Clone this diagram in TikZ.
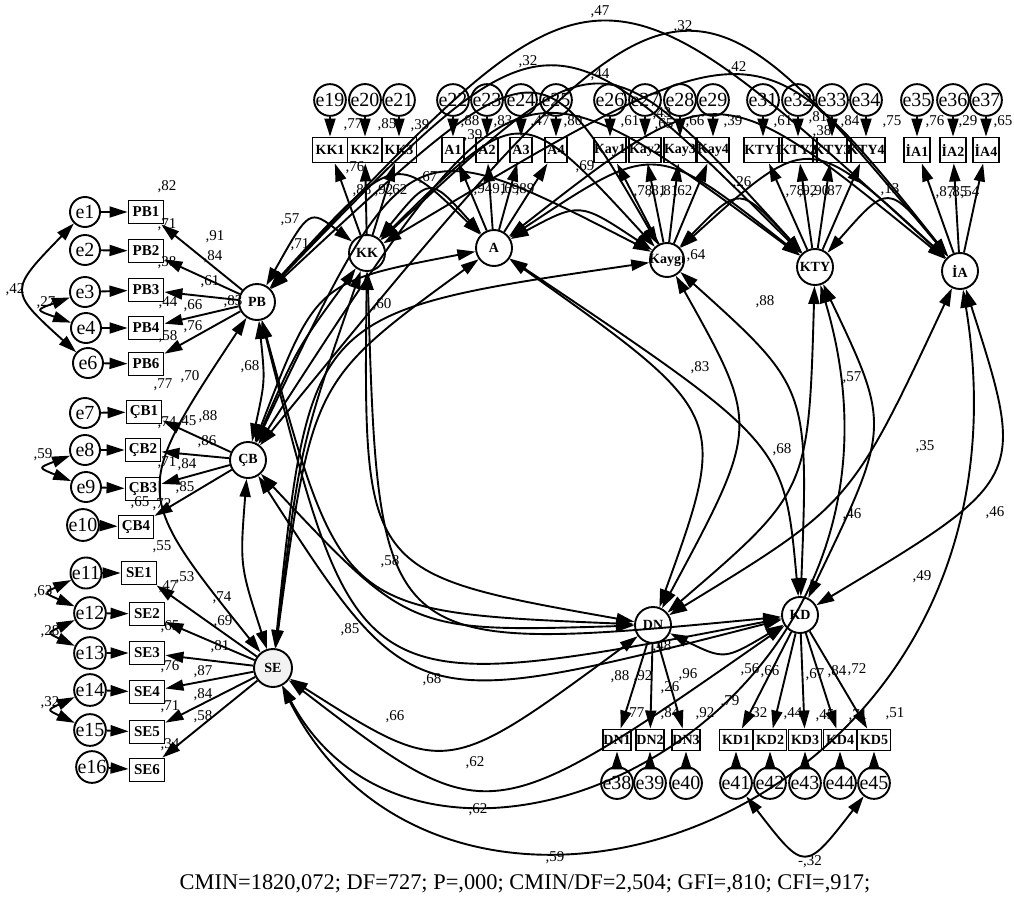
\documentclass[tikz,border=0pt]{standalone}
\usepackage{fontspec}
\setmainfont{Liberation Serif}
\usetikzlibrary{arrows.meta,calc}

\tikzset{
  lat/.style={circle,draw,line width=1.9pt,minimum size=36pt,inner sep=0pt,font=\bfseries\fontsize{14}{14}\selectfont},
  obs/.style={rectangle,draw,line width=1.9pt,minimum height=23pt,inner sep=0pt,font=\bfseries\fontsize{15}{15}\selectfont},
  err/.style={circle,draw,line width=1.9pt,minimum size=30pt,inner sep=0pt,font=\fontsize{20}{20}\selectfont},
  lbl/.style={inner sep=0pt,font=\fontsize{15}{15}\selectfont},
  reg/.style={-{Triangle[length=18pt,width=11pt]},line width=1.9pt},
  cov/.style={{Triangle[length=18pt,width=11pt]}-{Triangle[length=18pt,width=11pt]},line width=1.9pt},
}
\newcommand{\covar}[4]{\draw[cov] (#1) .. controls ($1.3333*(#3,-#4)-0.1667*(#1)-0.1667*(#2)$) .. (#2);}
\newcommand{\covarcc}[6]{\draw[cov] (#1) .. controls (#3,-#4) and (#5,-#6) .. (#2);}

\begin{document}
\begin{tikzpicture}[x=1pt,y=1pt]
\useasboundingbox (0,0) rectangle (1014,-910);

\node[lat] (PB) at (257,-302) {PB};
\node[lat] (CB) at (248,-460) {ÇB};
\node[lat,minimum size=38pt,fill=gray!10] (SE) at (273,-668) {SE};
\node[lat] (KK) at (367,-253) {KK};
\node[lat] (A) at (494,-248) {A};
\node[lat,minimum size=34pt] (Kay) at (667,-260) {\makebox[0pt]{Kaygı}};
\node[lat] (KTY) at (815,-267) {KTY};
\node[lat] (IA) at (960,-271) {İA};
\node[lat] (DN) at (653,-625) {DN};
\node[lat] (KD) at (800,-615) {KD};

% left side
\foreach \i/\lab/\bx/\by/\ex/\ey in {1/PB1/146/212/85/212, 2/PB2/146/251/85/250, 3/PB3/146/290/85/292,
  4/PB4/146/328/86/328, 6/PB6/146/364/88/363, 7/ÇB1/144/412/85/413, 8/ÇB2/143/450/85/450,
  9/ÇB3/143/489/86/487, 10/ÇB4/136/527/83/525, 11/SE1/139/573/86/573, 12/SE2/147/614/90/613,
  13/SE3/147/653/90/653, 14/SE4/147/692/90/690, 15/SE5/147/732/90/730, 16/SE6/147/770/92/767}{
  \node[obs,minimum width=35pt] (x\i) at (\bx,-\by) {\lab};
  \node[err] (e\i) at (\ex,-\ey) {e\i};
  \draw[reg] (e\i) -- (x\i);
}

% top row
\foreach \i/\lab/\bx/\w in {19/KK1/330/35, 20/KK2/365/35, 21/KK3/399/35, 22/A1/453/22, 23/A2/487/22,
  24/A3/521/22, 25/A4/556/22, 26/Kay1/610/28, 27/Kay2/645/28, 28/Kay3/680/28, 29/Kay4/713/28,
  31/KTY1/763/30, 32/KTY2/798/30, 33/KTY3/832/30, 34/KTY4/866/30, 35/İA1/917/26, 36/İA2/953/26, 37/İA4/986/26}{
  \node[obs,minimum width=\w pt,minimum height=25pt,font=\bfseries\fontsize{14}{14}\selectfont] (x\i) at (\bx,-150) {\lab};
  \node[err] (e\i) at (\bx,-100) {e\i};
  \draw[reg] (e\i) -- (x\i);
}

% bottom row
\foreach \i/\lab/\bx/\w in {38/DN1/617/28, 39/DN2/650/28, 40/DN3/686/28, 41/KD1/736/33, 42/KD2/770/33,
  43/KD3/805/33, 44/KD4/840/33, 45/KD5/874/33}{
  \node[obs,minimum width=\w pt,minimum height=21pt,font=\bfseries\fontsize{14}{14}\selectfont] (x\i) at (\bx,-740) {\lab};
  \node[err] (e\i) at (\bx,-783) {e\i};
  \draw[reg] (e\i) -- (x\i);
}

\foreach \i in {1,2,3,4,6} \draw[reg] (PB) -- (x\i);
\foreach \i in {7,...,10} \draw[reg] (CB) -- (x\i);
\foreach \i in {11,...,16} \draw[reg] (SE) -- (x\i);
\foreach \i in {19,20,21} \draw[reg] (KK) -- (x\i);
\foreach \i in {22,...,25} \draw[reg] (A) -- (x\i);
\foreach \i in {26,...,29} \draw[reg] (Kay) -- (x\i);
\foreach \i in {31,...,34} \draw[reg] (KTY) -- (x\i);
\foreach \i in {35,36,37} \draw[reg] (IA) -- (x\i);
\foreach \i in {38,39,40} \draw[reg] (DN) -- (x\i);
\foreach \i in {41,...,45} \draw[reg] (KD) -- (x\i);

% error covariances
\covar{e1}{e6}{28}{290}
\covar{e3}{e4}{48}{310}
\covar{e8}{e9}{50}{468}
\covar{e11}{e12}{55}{593}
\covar{e12}{e13}{58}{633}
\covar{e14}{e15}{58}{710}
\covar{e41}{e45}{805}{850}

% factor covariances
\covar{PB}{CB}{262}{381}
\covar{PB}{SE}{165}{490}
\covar{PB}{KK}{310}{226}
\covar{PB}{A}{390}{182}
\covar{PB}{Kay}{520}{100}
\covar{PB}{KTY}{545}{72}
\covar{PB}{IA}{600}{27}
\covar{PB}{DN}{370}{575}
\covar{PB}{KD}{400}{640}
\covar{CB}{SE}{245}{565}
\covar{CB}{KK}{300}{350}
\covar{CB}{A}{330}{300}
\covar{CB}{Kay}{420}{185}
\covar{CB}{KTY}{520}{125}
\covar{CB}{IA}{660}{42}
\covar{CB}{DN}{420}{610}
\covar{CB}{KD}{440}{670}
\covar{SE}{KK}{305}{450}
\covar{SE}{A}{330}{400}
\covar{SE}{Kay}{350}{350}
\covarcc{SE}{KTY}{430}{960}{950}{720}
\covarcc{SE}{IA}{450}{1020}{1050}{820}
\covar{SE}{DN}{450}{745}
\covar{SE}{KD}{500}{785}
\covar{KK}{A}{430}{195}
\covar{KK}{Kay}{520}{140}
\covar{KK}{KTY}{600}{90}
\covar{KK}{IA}{735}{80}
\covar{KK}{DN}{400}{540}
\covar{KK}{KD}{430}{600}
\covar{A}{Kay}{580}{215}
\covar{A}{KTY}{655}{170}
\covar{A}{IA}{720}{120}
\covar{A}{DN}{690}{420}
\covar{A}{KD}{750}{440}
\covar{Kay}{KTY}{740}{205}
\covar{Kay}{IA}{810}{165}
\covar{Kay}{DN}{735}{430}
\covar{Kay}{KD}{790}{400}
\covar{KTY}{IA}{888}{205}
\covar{KTY}{DN}{790}{480}
\covar{KTY}{KD}{870}{430}
\covar{IA}{DN}{840}{490}
\covar{IA}{KD}{990}{470}
\covar{DN}{KD}{725}{650}

% estimates
\foreach \lx/\ly/\lab [count=\k] in {167/187/{,82}, 167/225/{,71}, 167/263/{,38}, 168/303/{,44}, 168/337/{,58},
  215/237/{,91}, 213/257/{,84}, 210/282/{,61}, 193/306/{,66}, 193/327/{,76}, 233/302/{,83},
  163/385/{,77}, 190/377/{,70}, 250/367/{,68}, 167/423/{,74}, 187/422/{,45}, 208/417/{,88}, 207/442/{,86},
  167/463/{,71}, 187/465/{,84}, 185/488/{,85}, 140/503/{,65}, 162/505/{,72},
  162/547/{,55}, 185/578/{,53}, 168/587/{,47}, 222/598/{,74}, 223/622/{,69}, 220/647/{,81},
  203/672/{,87}, 203/695/{,84}, 203/717/{,58}, 170/627/{,65}, 170/667/{,76}, 170/707/{,71}, 170/745/{,34},
  15/290/{,42}, 46/303/{,27}, 43/455/{,59}, 43/592/{,63}, 50/632/{,28}, 50/703/{,32},
  290/220/{,57}, 300/245/{,71}, 382/305/{,60}, 353/125/{,77}, 387/125/{,85}, 420/126/{,39},
  355/168/{,76}, 362/191/{,88}, 384/191/{,92}, 398/191/{,62}, 428/178/{,67},
  470/122/{,88}, 473/136/{,39}, 503/122/{,83}, 540/122/{,47}, 573/122/{,80},
  483/190/{,94}, 498/190/{,91}, 510/190/{,69}, 525/190/{,89}, 585/167/{,69},
  630/122/{,61}, 664/125/{,65}, 662/114/{,43}, 695/122/{,66}, 733/122/{,39},
  643/192/{,78}, 657/192/{,81}, 669/192/{,81}, 683/192/{,62}, 742/183/{,26}, 696/256/{,64},
  783/122/{,61}, 818/118/{,81}, 822/132/{,38}, 850/122/{,84}, 892/122/{,75},
  795/192/{,78}, 808/192/{,92}, 820/192/{,90}, 833/192/{,87}, 890/190/{,13},
  935/122/{,76}, 968/122/{,29}, 1003/122/{,65}, 945/193/{,87}, 958/193/{,85}, 970/193/{,54},
  600/12/{,47}, 683/27/{,32}, 528/62/{,32}, 600/75/{,44}, 737/68/{,42},
  765/302/{,88}, 700/368/{,83}, 852/378/{,57}, 782/450/{,68}, 925/447/{,35}, 852/515/{,46},
  995/513/{,46}, 922/577/{,49}, 390/562/{,58}, 350/630/{,85}, 432/680/{,68}, 395/717/{,66},
  475/763/{,62}, 478/810/{,62}, 555/858/{,59}, 662/647/{,48}, 670/688/{,26}, 730/702/{,79},
  620/677/{,88}, 643/677/{,92}, 688/675/{,96}, 635/714/{,77}, 670/714/{,84}, 705/714/{,92},
  750/670/{,56}, 770/672/{,66}, 815/675/{,67}, 837/672/{,84}, 857/670/{,72},
  758/714/{,32}, 793/714/{,44}, 825/716/{,45}, 858/716/{,71}, 895/714/{,51}, 810/862/{-,32}}
  \node[lbl] (l\k) at (\lx,-\ly) {\lab};

\node[font=\fontsize{22.4}{22.4}\selectfont] (fit) at (525,-884)
  {CMIN=1820,072; DF=727; P=,000; CMIN/DF=2,504; GFI=,810; CFI=,917;};
\end{tikzpicture}
\end{document}
